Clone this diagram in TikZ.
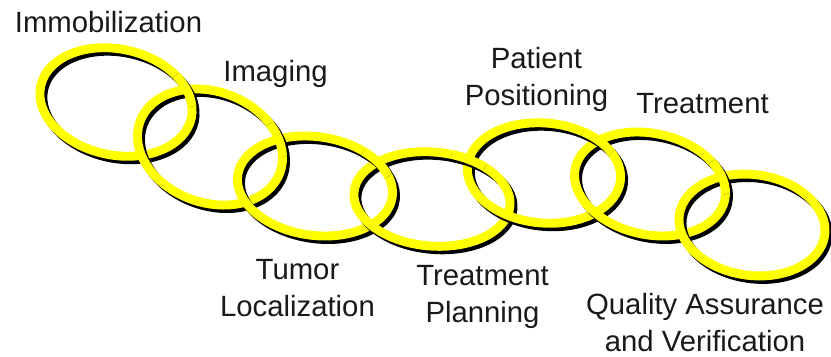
\documentclass[tikz,border=0pt]{standalone}
\usepackage{fontspec}
\setmainfont{Liberation Sans}
\usepackage{xcolor}
\usetikzlibrary{intersections}
\definecolor{chainyellow}{RGB}{255,255,0}
\definecolor{labelgray}{RGB}{25,25,25}
\tikzset{
  ringshadow/.style={draw=black,line width=7.6pt},
  ringband/.style={draw=chainyellow,line width=7.6pt},
  chainlabel/.style={font=\fontsize{25}{31.5}\selectfont,text=labelgray,align=center,inner sep=0pt,anchor=base}
}
\newcommand{\chainring}[6]{%
  \draw[ringshadow,rotate around={#6:(#2+3,#3-3.5)}] (#2+3,#3-3.5) ellipse ({#4} and {#5});
  \draw[ringband,name path global=r#1,rotate around={#6:(#2,#3)}] (#2,#3) ellipse ({#4} and {#5});
}
\def\ringlist{1/116/254/77/53/-12,2/210/209/74.5/55.5/-20,3/315/170/78/49.3/-8,4/432/157/78.3/47/-5,5/544/183/76.8/50/-5,6/650/172/76.4/50.6/-12,7/752/131/73.4/50.4/-8}

\begin{document}
\begin{tikzpicture}[x=0.03cm,y=0.03cm]
 \useasboundingbox (0,0) rectangle (831,356);
 \foreach \i/\cx/\cy/\rx/\ry/\ang in \ringlist {
   \chainring{\i}{\cx}{\cy}{\rx}{\ry}{\ang}
 }
 \foreach \i/\cx/\cy/\rx/\ry/\ang in \ringlist {
   \ifnum\i<7
     \pgfmathtruncatemacro{\j}{\i+1}
     \path[name intersections/.expanded={of=r\i\space and r\j,sort by=r\i,by=cross\i}];
     \begin{scope}
       \clip (cross\i) circle (18);
       \chainring{\i}{\cx}{\cy}{\rx}{\ry}{\ang}
     \end{scope}
   \fi
 }
 \node[chainlabel] (immob) at (108.5,323) {Immobilization};
 \node[chainlabel] (imaging) at (275.5,274) {Imaging};
 \node[chainlabel] (tumor) at (297.5,40) {Tumor\\Localization};
 \node[chainlabel] (planning) at (482.5,33.5) {Treatment\\Planning};
 \node[chainlabel] (patient) at (536.5,251) {Patient\\Positioning};
 \node[chainlabel] (treatment) at (702.5,243) {Treatment};
 \node[chainlabel] (quality) at (705,4.5) {Quality Assurance\\and Verification};
\end{tikzpicture}
\end{document}
